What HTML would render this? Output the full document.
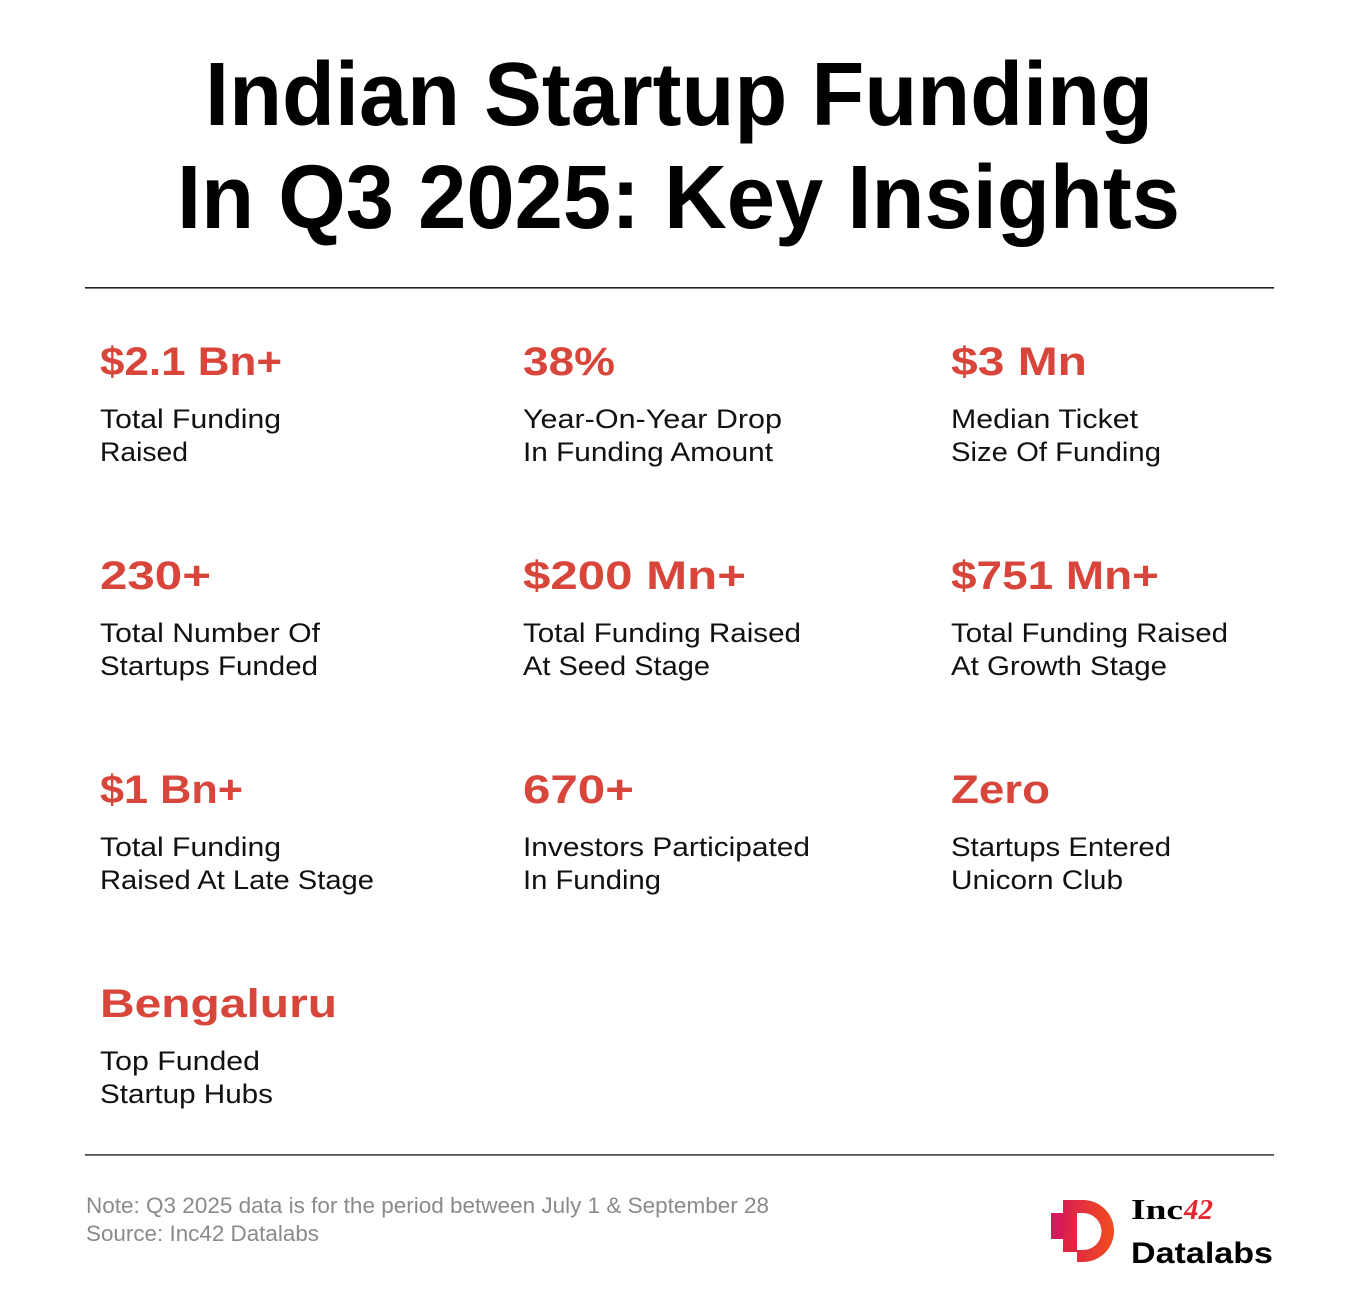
<!DOCTYPE html>
<html>
<head>
<meta charset="utf-8">
<style>
  html, body { margin: 0; padding: 0; background: #ffffff; }
  svg { display: block; }
  .t { font-family: "Liberation Sans", sans-serif; font-weight: bold; fill: #000; font-size: 90px; }
  .n { font-family: "Liberation Sans", sans-serif; font-weight: bold; fill: #d8453a; font-size: 40px; }
  .l { font-family: "Liberation Sans", sans-serif; font-weight: normal; fill: #111; font-size: 27px; }
  .f { font-family: "Liberation Sans", sans-serif; font-weight: normal; fill: #8a8a8a; font-size: 22px; }
</style>
</head>
<body>
<svg width="1360" height="1312" viewBox="0 0 1360 1312" xmlns="http://www.w3.org/2000/svg">
  <rect x="0" y="0" width="1360" height="1312" fill="#ffffff"/>

  <!-- Title -->
  <text class="t" x="205" y="125" textLength="948" lengthAdjust="spacingAndGlyphs">Indian Startup Funding</text>
  <text class="t" x="177" y="228" textLength="1003" lengthAdjust="spacingAndGlyphs">In Q3 2025: Key Insights</text>

  <!-- Rules -->
  <rect x="85" y="287" width="1189" height="1.6" fill="#222"/>
  <rect x="85" y="1154" width="1189" height="1.8" fill="#555"/>

  <!-- Row 1 -->
  <text class="n" x="100" y="375" textLength="182" lengthAdjust="spacingAndGlyphs">$2.1 Bn+</text>
  <text class="l" x="100" y="428" textLength="181" lengthAdjust="spacingAndGlyphs">Total Funding</text>
  <text class="l" x="100" y="461" textLength="88" lengthAdjust="spacingAndGlyphs">Raised</text>

  <text class="n" x="523" y="375" textLength="92" lengthAdjust="spacingAndGlyphs">38%</text>
  <text class="l" x="523" y="428" textLength="259" lengthAdjust="spacingAndGlyphs">Year-On-Year Drop</text>
  <text class="l" x="523" y="461" textLength="250" lengthAdjust="spacingAndGlyphs">In Funding Amount</text>

  <text class="n" x="951" y="375" textLength="136" lengthAdjust="spacingAndGlyphs">$3 Mn</text>
  <text class="l" x="951" y="428" textLength="187" lengthAdjust="spacingAndGlyphs">Median Ticket</text>
  <text class="l" x="951" y="461" textLength="210" lengthAdjust="spacingAndGlyphs">Size Of Funding</text>

  <!-- Row 2 -->
  <text class="n" x="100" y="589" textLength="111" lengthAdjust="spacingAndGlyphs">230+</text>
  <text class="l" x="100" y="642" textLength="220" lengthAdjust="spacingAndGlyphs">Total Number Of</text>
  <text class="l" x="100" y="675" textLength="218" lengthAdjust="spacingAndGlyphs">Startups Funded</text>

  <text class="n" x="523" y="589" textLength="223" lengthAdjust="spacingAndGlyphs">$200 Mn+</text>
  <text class="l" x="523" y="642" textLength="278" lengthAdjust="spacingAndGlyphs">Total Funding Raised</text>
  <text class="l" x="523" y="675" textLength="187" lengthAdjust="spacingAndGlyphs">At Seed Stage</text>

  <text class="n" x="951" y="589" textLength="208" lengthAdjust="spacingAndGlyphs">$751 Mn+</text>
  <text class="l" x="951" y="642" textLength="277" lengthAdjust="spacingAndGlyphs">Total Funding Raised</text>
  <text class="l" x="951" y="675" textLength="216" lengthAdjust="spacingAndGlyphs">At Growth Stage</text>

  <!-- Row 3 -->
  <text class="n" x="100" y="803" textLength="143" lengthAdjust="spacingAndGlyphs">$1 Bn+</text>
  <text class="l" x="100" y="856" textLength="181" lengthAdjust="spacingAndGlyphs">Total Funding</text>
  <text class="l" x="100" y="889" textLength="274" lengthAdjust="spacingAndGlyphs">Raised At Late Stage</text>

  <text class="n" x="523" y="803" textLength="111" lengthAdjust="spacingAndGlyphs">670+</text>
  <text class="l" x="523" y="856" textLength="287" lengthAdjust="spacingAndGlyphs">Investors Participated</text>
  <text class="l" x="523" y="889" textLength="138" lengthAdjust="spacingAndGlyphs">In Funding</text>

  <text class="n" x="951" y="803" textLength="99" lengthAdjust="spacingAndGlyphs">Zero</text>
  <text class="l" x="951" y="856" textLength="220" lengthAdjust="spacingAndGlyphs">Startups Entered</text>
  <text class="l" x="951" y="889" textLength="172" lengthAdjust="spacingAndGlyphs">Unicorn Club</text>

  <!-- Row 4 -->
  <text class="n" x="100" y="1017" textLength="237" lengthAdjust="spacingAndGlyphs">Bengaluru</text>
  <text class="l" x="100" y="1070" textLength="160" lengthAdjust="spacingAndGlyphs">Top Funded</text>
  <text class="l" x="100" y="1103" textLength="173" lengthAdjust="spacingAndGlyphs">Startup Hubs</text>

  <!-- Footer notes -->
  <text class="f" x="86" y="1213" textLength="683" lengthAdjust="spacingAndGlyphs">Note: Q3 2025 data is for the period between July 1 &amp; September 28</text>
  <text class="f" x="86" y="1241" textLength="233" lengthAdjust="spacingAndGlyphs">Source: Inc42 Datalabs</text>

  <!-- Logo -->
  <defs>
    <linearGradient id="lg" x1="1051" y1="0" x2="1114" y2="0" gradientUnits="userSpaceOnUse">
      <stop offset="0" stop-color="#d4145a"/>
      <stop offset="1" stop-color="#f24e1e"/>
    </linearGradient>
  </defs>
  <rect x="1051" y="1213" width="12" height="26" fill="#d8185a"/>
  <path fill="url(#lg)" fill-rule="evenodd"
        d="M1063,1200 H1083 A31,31 0 0 1 1083,1262 H1077 V1252 H1063 Z
           M1077,1213 H1083 A18.5,18.5 0 0 1 1083,1250 H1077 Z"/>
  <rect x="1063" y="1239" width="14" height="13" fill="#e0263f"/>

  <text x="1131" y="1219" textLength="52" lengthAdjust="spacingAndGlyphs"
        style="font-family:'Liberation Serif',serif;font-weight:bold;font-size:28px;fill:#000;">Inc</text>
  <text x="1184" y="1219" textLength="29" lengthAdjust="spacingAndGlyphs"
        style="font-family:'Liberation Serif',serif;font-weight:bold;font-style:italic;font-size:28px;fill:#e3262f;">42</text>
  <text x="1131" y="1263" textLength="142" lengthAdjust="spacingAndGlyphs"
        style="font-family:'Liberation Sans',sans-serif;font-weight:bold;font-size:30px;fill:#000;">Datalabs</text>
</svg>
</body>
</html>
